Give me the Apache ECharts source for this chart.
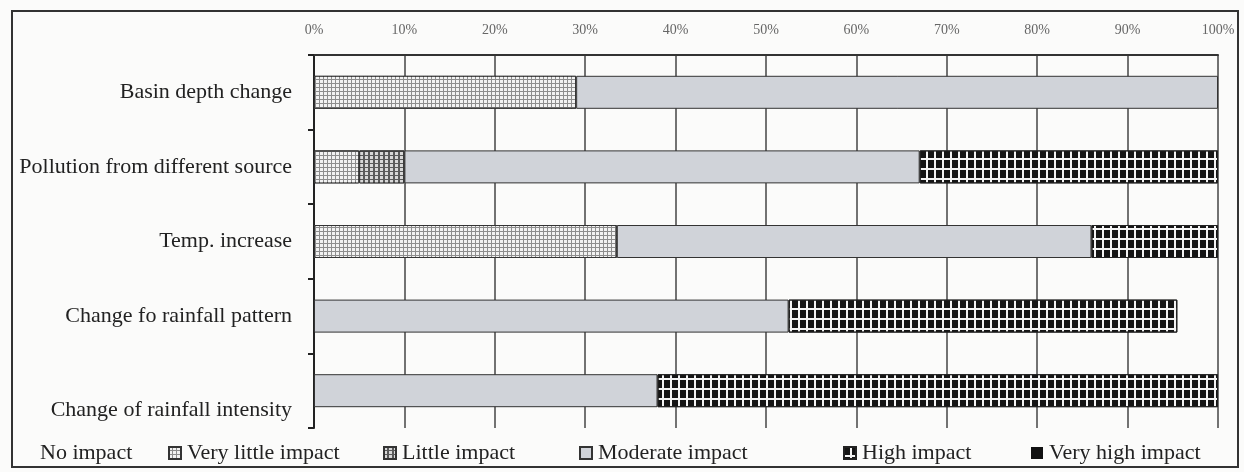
<!DOCTYPE html>
<html>
<head>
<meta charset="utf-8">
<script src="https://cdn.jsdelivr.net/npm/echarts@6/dist/echarts.min.js"></script>
<style>
  html, body { margin: 0; padding: 0; background: #fbfbfa; }
  #chart { width: 1244px; height: 472px; }
</style>
</head>
<body>
<div id="chart"></div>
<script>
// rows, top to bottom
var categories = [
  'Basin depth change',
  'Pollution from different source',
  'Temp. increase',
  'Change fo rainfall pattern',
  'Change of rainfall intensity'
]
var tickLabels = ['0%', '10%', '20%', '30%', '40%', '50%', '60%', '70%', '80%', '90%', '100%']

// share of answers, percent
var noImpact = [0, 0, 0, 0, 0]
var veryLittleImpact = [29, 5, 33.5, 0, 0]
var littleImpact = [0, 5, 0, 0, 0]
var moderateImpact = [71, 57, 52.5, 52.5, 38]
var highImpact = [0, 33, 14, 43, 62]
var veryHighImpact = [0, 0, 0, 0, 0]

var serif = 'Liberation Serif'

function clean(arr) {
  return arr.map(function(v) { return v === 0 ? '-' : v })
}

function barSeries(name, data, itemStyle) {
  return {
    name: name,
    type: 'bar',
    stack: 'total',
    barWidth: 33,
    data: clean(data),
    itemStyle: itemStyle
  }
}

var chart = echarts.init(document.getElementById('chart'))

var legendBase = {
  top: 437,
  itemWidth: 12,
  itemHeight: 12,
  itemGap: 0,
  icon: 'rect',
  selectedMode: false,
  textStyle: { fontFamily: serif, fontSize: 22, color: '#222', padding: [0, 0, 0, 1] }
}
function legendAt(name, left, extra) {
  return Object.assign({}, legendBase, { data: [name], left: left }, extra || {})
}

chart.setOption({
  backgroundColor: '#fbfbfa',
  animation: false,
  grid: { left: 314, right: 26, top: 55, bottom: 44 },
  graphic: [{
    type: 'rect',
    shape: { x: 12, y: 11, width: 1226, height: 456 },
    style: { fill: 'none', stroke: '#333', lineWidth: 2 }
  }],
  legend: [
    legendAt('No impact', 29, { itemWidth: 0 }),
    legendAt('Very little impact', 163),
    legendAt('Little impact', 378),
    legendAt('Moderate impact', 574),
    legendAt('High impact', 838),
    legendAt('Very high impact', 1026)
  ],
  xAxis: {
    type: 'value',
    position: 'top',
    min: 0,
    max: 100,
    interval: 10,
    axisLine: { show: true, lineStyle: { color: '#333', width: 2 } },
    axisTick: { show: false },
    axisLabel: {
      margin: 18,
      fontFamily: serif,
      fontSize: 14,
      color: '#666',
      formatter: function(v) { return tickLabels[v / 10] }
    },
    splitLine: { show: true, lineStyle: { color: '#444', width: 1.5 } }
  },
  yAxis: {
    type: 'category',
    inverse: true,
    data: categories,
    axisLine: { show: true, lineStyle: { color: '#222', width: 2 } },
    axisTick: { show: true, length: 6, lineStyle: { color: '#222', width: 2 } },
    axisLabel: {
      margin: 22,
      fontFamily: serif,
      fontSize: 22,
      color: '#222',
      // the last label sits lower than its bar in the original
      formatter: function(v, i) {
        return i === categories.length - 1 ? '{low|' + v + '}' : v
      },
      rich: {
        low: { fontFamily: serif, fontSize: 22, color: '#222', padding: [40, 0, 0, 0] }
      }
    }
  },
  series: [
    barSeries('No impact', noImpact, { color: '#fbfbfa' }),
    barSeries('Very little impact', veryLittleImpact, {
      color: '#8d8d8d',
      borderColor: '#333',
      borderWidth: 1,
      decal: { symbol: 'rect', symbolSize: 1, color: '#f2f2f2', dashArrayX: [3, 1], dashArrayY: [3, 1], rotation: 0 }
    }),
    barSeries('Little impact', littleImpact, {
      color: '#5a5a5a',
      borderColor: '#333',
      borderWidth: 1,
      decal: { symbol: 'rect', symbolSize: 1, color: '#d8d8d8', dashArrayX: [3, 2], dashArrayY: [3, 1], rotation: 0 }
    }),
    barSeries('Moderate impact', moderateImpact, {
      color: '#d0d3d9',
      borderColor: '#333',
      borderWidth: 1
    }),
    barSeries('High impact', highImpact, {
      color: '#f4f4f4',
      borderColor: '#222',
      borderWidth: 1,
      decal: { symbol: 'rect', symbolSize: 1, color: '#151515', dashArrayX: [6, 2], dashArrayY: [8, 2], rotation: 0 }
    }),
    barSeries('Very high impact', veryHighImpact, { color: '#111' })
  ]
})
</script>
</body>
</html>
